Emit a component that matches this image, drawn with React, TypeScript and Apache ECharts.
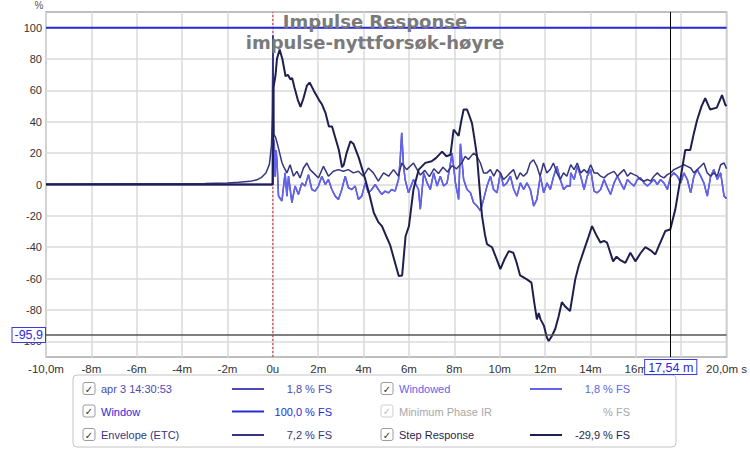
import React, { useEffect, useRef } from 'react';
import * as echarts from 'echarts';

// ---- axis ticks ----
const xTickValues = [-10, -8, -6, -4, -2, 0, 2, 4, 6, 8, 10, 12, 14, 16, 18, 20];
const xTickLabels = ['-10,0m', '-8m', '-6m', '-4m', '-2m', '0u', '2m', '4m', '6m', '8m', '10m', '12m', '14m', '16m', '', '20,0m s'];
const yTickValues = [-100, -80, -60, -40, -20, 0, 20, 40, 60, 80, 100];

// ---- titles / cursor ----
const titleLines = ['Impulse Response', 'impulse-nyttforsøk-høyre'];
const cursorTime = 17.54;
const cursorLevel = -95.9;
const cursorTimeLabel = '17,54 m';
const cursorLevelLabel = '-95,9';
// vertical reference marker at t = 0 spanning the full y range
const referencePoints: [number, number][] = [[0, -110], [0, 110]];

// ---- series data: [time ms, %] ----
const windowPoints: [number, number][] = [[-10, 100], [20, 100]];

const windowedPoints: [number, number][] = [
  [-10, 0], [-0.02, 0], [0, 95], [0.03, 10], [0.06, 28], [0.1, 5], [0.14, 22], [0.18, 15.8],
  [0.25, -7.4], [0.4, -10.5], [0.54, 7.4], [0.62, -7.4], [0.69, 5.3], [0.84, -11.6], [0.98, -1],
  [1.13, -6.3], [1.28, 1], [1.42, -1], [1.57, 6.3], [1.72, -3.2], [1.86, -4.2], [2.01, -1],
  [2.16, 5.3], [2.31, 0], [2.45, 3.2], [2.6, -3.2], [2.75, -7.4], [2.89, -9.5], [3.04, -3.2],
  [3.19, 5.3], [3.33, -2.1], [3.48, -3.2], [3.63, -1], [3.77, -9.5], [3.92, -7.4], [4.07, 1],
  [4.21, -5.3], [4.36, -3.2], [4.51, 0], [4.65, -3.2], [4.8, -6.3], [4.95, -4.2], [5.1, -5.3],
  [5.24, -3.2], [5.39, -4.2], [5.54, 3.2], [5.61, 15], [5.68, 33], [5.76, 12], [5.83, 3.2],
  [5.98, -5.3], [6.2, 3.2], [6.42, -3.2], [6.5, -15.8], [6.65, 7.4], [6.8, 1], [6.94, -3.2],
  [7.09, 7.4], [7.24, -1], [7.38, 5.3], [7.53, -1], [7.68, 1], [7.83, 13.7], [7.9, 20], [8.05, 1],
  [8.19, -9.5], [8.27, 26], [8.41, 3.2], [8.56, -3.2], [8.71, -5.3], [8.85, -11.6], [9.0, -13.7],
  [9.15, -16.8], [9.29, -9.5], [9.44, -1], [9.59, 5.3], [9.73, -3.2], [9.88, -5.3], [10.03, 7.4],
  [10.17, -1], [10.32, 1], [10.47, 5.3], [10.62, -3.2], [10.76, -7.4], [10.91, 1], [11.06, -3.2],
  [11.2, 1], [11.35, -3.2], [11.5, -13.7], [11.64, -9.5], [11.79, 5.3], [11.94, -5.3], [12.08, 1],
  [12.23, -3.2], [12.38, 5.3], [12.52, 11.6], [12.67, 3.2], [12.82, -3.2], [12.96, -1], [13.11, -1],
  [13.13, 7.4], [13.28, 3.2], [13.42, 11.6], [13.57, 5.3], [13.72, -3.2], [13.86, 5.3], [14.01, 9.5],
  [14.16, -4.2], [14.3, -5.3], [14.45, -3.2], [14.6, 3.2], [14.75, -2.1], [14.89, -6.3], [15.04, 1],
  [15.19, 5.3], [15.33, 1], [15.48, -3.2], [15.63, 3.2], [15.77, 1], [15.92, -1], [16.07, 3.2],
  [16.21, 4.2], [16.36, 1], [16.51, -1], [16.65, 1], [16.8, 3.2], [16.95, 0], [17.09, 3.2],
  [17.24, 1], [17.39, -3.2], [17.54, 5.3], [17.68, 7.4], [17.83, 5.3], [17.98, 1], [18.12, 7.4],
  [18.27, 3.2], [18.42, -5.3], [18.56, 5.3], [18.71, 9.5], [18.86, 5.3], [19.0, 1], [19.15, -7.4],
  [19.3, 5.3], [19.44, 9.5], [19.59, 3.2], [19.74, 7.4], [19.89, -7.4], [20, -9],
];

// the window is 100 % over the whole span, so the raw response equals the windowed one
const impulsePoints: [number, number][] = windowedPoints;

const envelopePoints: [number, number][] = [
  [-10, 0.3], [-6, 0.4], [-4, 0.5], [-3, 0.7], [-2, 1.0], [-1.5, 1.4], [-1, 2.0], [-0.7, 3],
  [-0.5, 4.5], [-0.3, 7.5], [-0.15, 13], [-0.06, 25], [-0.02, 45], [0, 95], [0.05, 32], [0.12, 30],
  [0.2, 26], [0.3, 20], [0.4, 14], [0.47, 11.6], [0.62, 7.4], [0.76, 12.6], [0.91, 5.3], [1.06, 8.4],
  [1.2, 4.2], [1.35, 10.5], [1.5, 13.7], [1.64, 9.5], [1.79, 7.4], [2.01, 4.2], [2.23, 11.6],
  [2.45, 5.3], [2.67, 8.4], [2.89, 9.5], [3.11, 8.4], [3.33, 9.5], [3.55, 7.4], [3.77, 8.4],
  [3.99, 5.3], [4.21, 10.5], [4.43, 7.4], [4.65, 2.1], [4.88, 7.4], [5.1, 5.3], [5.32, 9.5],
  [5.54, 5.3], [5.68, 13.7], [5.9, 9.5], [6.2, 13.7], [6.5, 6], [6.7, 9], [6.9, 5], [7.1, 10],
  [7.3, 7], [7.5, 11], [7.7, 8], [7.9, 12], [8.1, 10], [8.34, 14], [8.48, 18], [8.62, 16],
  [8.85, 20], [9.0, 18], [9.15, 13.7], [9.29, 7.4], [9.44, 7.4], [9.59, 9.5], [9.74, 5.3],
  [9.88, 9.5], [10.03, 7.4], [10.17, 3.2], [10.32, 5.3], [10.46, 7.4], [10.61, 9.5], [10.76, 3.2],
  [10.9, 7.4], [11.05, 5.3], [11.2, 7.4], [11.34, 13.7], [11.49, 15.8], [11.64, 11.6], [11.78, 5.3],
  [11.93, 13.7], [12.08, 7.4], [12.22, 9.5], [12.37, 13.7], [12.52, 7.4], [12.67, 3.2], [12.81, 7.4],
  [12.96, 5.3], [13.13, 12.6], [13.28, 9.5], [13.42, 13.7], [13.57, 7.4], [13.72, 9.5], [13.86, 7.4],
  [14.01, 12.6], [14.16, 7.4], [14.3, 7.4], [14.45, 5.3], [14.6, 4.2], [14.75, 6.3], [14.89, 7.4],
  [15.04, 8.4], [15.19, 5.3], [15.33, 7.4], [15.48, 9.5], [15.63, 5.3], [15.77, 7.4], [15.92, 6.3],
  [16.07, 5.3], [16.21, 3.2], [16.36, 2.1], [16.51, 3.2], [16.65, 2.1], [16.8, 5.3], [16.95, 7.4],
  [17.09, 5.3], [17.24, 4.2], [17.39, 6.3], [17.54, 7.4], [17.68, 9.5], [17.83, 10.5], [17.98, 11.6],
  [18.12, 12.6], [18.27, 11.6], [18.42, 10.5], [18.56, 7.4], [18.71, 9.5], [18.86, 11.6], [19.0, 13.7],
  [19.15, 7.4], [19.3, 5.3], [19.44, 7.4], [19.59, 5.3], [19.74, 12.6], [19.89, 13.7], [20, 10],
];

const stepPoints: [number, number][] = [
  [-10, 0], [0, 0], [0.03, 62], [0.12, 70], [0.18, 80], [0.3, 86], [0.42, 80], [0.56, 69],
  [0.66, 70], [0.78, 67], [0.85, 68], [0.95, 62], [1.1, 54], [1.22, 49.5], [1.35, 55], [1.5, 63],
  [1.62, 65], [1.8, 60], [2.03, 54], [2.17, 51], [2.32, 45.7], [2.47, 37], [2.61, 37], [2.75, 30],
  [2.91, 22], [3.05, 11], [3.13, 12.7], [3.25, 20], [3.42, 27.6], [3.55, 26], [3.79, 17], [4.08, 3],
  [4.25, -6], [4.45, -18], [4.65, -24], [4.81, -26.5], [5.0, -33], [5.18, -39], [5.35, -48],
  [5.55, -58.4], [5.7, -58], [5.85, -33], [6.0, -26.5], [6.2, -3], [6.43, 9.5], [6.72, 13.8],
  [7.0, 14.8], [7.2, 17], [7.46, 21], [7.65, 18], [7.83, 19], [7.97, 35], [8.08, 33], [8.19, 31],
  [8.3, 40], [8.41, 47.8], [8.56, 47.8], [8.66, 44], [8.78, 39], [8.9, 28], [9.0, 18], [9.1, 0],
  [9.22, -20], [9.35, -32], [9.44, -38], [9.66, -40], [9.85, -47], [10.03, -54], [10.2, -48],
  [10.4, -42.5], [10.6, -43.5], [10.75, -50], [10.9, -58], [11.2, -60.5], [11.4, -62.6], [11.52, -75],
  [11.64, -86], [11.72, -82], [11.8, -86], [11.95, -90], [12.08, -97.6], [12.16, -99.8], [12.3, -96.6],
  [12.45, -92], [12.6, -84], [12.74, -75], [12.9, -78], [13.1, -80.7], [13.33, -60.5], [13.48, -52],
  [13.7, -42.5], [13.9, -34], [14.07, -26.5], [14.25, -32], [14.44, -37], [14.6, -36], [14.73, -37],
  [15.0, -49], [15.15, -46], [15.3, -48], [15.54, -50], [15.76, -43.5], [15.98, -49], [16.2, -44],
  [16.42, -40], [16.65, -42], [16.86, -44.6], [17.05, -38], [17.3, -29.7], [17.52, -28.7],
  [17.74, -16], [17.96, 3], [18.18, 22], [18.4, 22], [18.55, 32], [18.7, 41], [18.9, 50], [19.06, 55],
  [19.28, 47.8], [19.57, 49], [19.8, 57], [19.94, 51], [20, 50],
];

// ---- legend ----
const legendNames = ['apr 3 14:30:53', 'Window', 'Envelope (ETC)', 'Windowed', 'Minimum Phase IR', 'Step Response'];
const legendValues = ['1,8 % FS', '100,0 % FS', '7,2 % FS', '1,8 % FS', '% FS', '-29,9 % FS'];
const legendHasLine = [true, true, true, true, false, true];

// ---- colours ----
const colImpulse = '#4a4ab6';
const colWindow = '#2a2adc';
const colEnvelope = '#35357e';
const colWindowed = '#6262ee';
const colMinPhase = '#a8a8a8';
const colStep = '#1f1f4f';
const colReference = '#c8283a';
const legendColors = [colImpulse, colWindow, colEnvelope, colWindowed, colMinPhase, colStep];

const FONT = "'Liberation Sans', Arial, sans-serif";

export default function App() {
  const ref = useRef<HTMLDivElement>(null);

  useEffect(() => {
    document.body.style.margin = '0';
    if (!ref.current) return;
    const chart = echarts.init(ref.current, undefined, { renderer: 'svg' });

    const lineSeries = (name: string, data: [number, number][], color: string, width: number, extra: any = {}) => ({
      type: 'line',
      name,
      data,
      showSymbol: false,
      symbol: 'none',
      lineStyle: { color, width },
      itemStyle: { color },
      silent: true,
      animation: false,
      ...extra,
    });

    const cursorLabel = (text: string, distance: number, padding: number[]) => ({
      show: true,
      position: 'start',
      distance,
      formatter: text,
      color: '#2a2ae0',
      fontSize: 12.5,
      backgroundColor: '#ffffff',
      borderColor: '#3a3ae0',
      borderWidth: 1,
      padding,
    });

    // legend graphics
    const rowsY = [389, 411.5, 435];
    const legendEls: any[] = [
      {
        type: 'rect',
        shape: { x: 73, y: 375, width: 603, height: 72, r: 4 },
        style: { fill: '#ffffff', stroke: '#c4c4c4', lineWidth: 1 },
      },
    ];
    legendNames.forEach((nm, i) => {
      const dx = i < 3 ? 0 : 298;
      const y = rowsY[i % 3];
      const disabled = !legendHasLine[i];
      legendEls.push({
        type: 'rect',
        shape: { x: 83 + dx, y: y - 6.5, width: 12, height: 12, r: 2 },
        style: { fill: '#ffffff', stroke: disabled ? '#cfcfcf' : '#9c9c9c', lineWidth: 1 },
      });
      legendEls.push({
        type: 'text',
        x: 89 + dx,
        y: y,
        style: {
          text: '✓',
          fill: disabled ? '#bdbdbd' : '#333333',
          fontSize: 10,
          fontFamily: 'DejaVu Sans',
          align: 'center',
          verticalAlign: 'middle',
        },
      });
      legendEls.push({
        type: 'text',
        x: 101 + dx,
        y: y,
        style: {
          text: nm,
          fill: legendColors[i],
          fontSize: 11,
          fontFamily: FONT,
          align: 'left',
          verticalAlign: 'middle',
        },
      });
      if (legendHasLine[i]) {
        legendEls.push({
          type: 'line',
          shape: { x1: 232 + dx, y1: y, x2: 264 + dx, y2: y },
          style: { stroke: legendColors[i], lineWidth: 2 },
        });
      }
      legendEls.push({
        type: 'text',
        x: 332 + dx,
        y: y,
        style: {
          text: legendValues[i],
          fill: legendColors[i],
          fontSize: 11,
          fontFamily: FONT,
          align: 'right',
          verticalAlign: 'middle',
        },
      });
    });

    const titleEls = titleLines.map((t, i) => ({
      type: 'text',
      x: 375,
      y: i === 0 ? 21 : 42,
      z: 10,
      style: {
        text: t,
        fill: '#7a7a7a',
        fontSize: 18,
        fontWeight: 'bold',
        fontFamily: 'DejaVu Sans',
        align: 'center',
        verticalAlign: 'middle',
      },
    }));

    chart.setOption({
      animation: false,
      backgroundColor: '#ffffff',
      textStyle: { fontFamily: FONT },
      grid: {
        left: 46,
        right: 22,
        top: 12,
        bottom: 92,
        show: true,
        borderColor: '#a9a9a9',
        borderWidth: 1.5,
        backgroundColor: '#ffffff',
      },
      xAxis: {
        type: 'value',
        min: -10,
        max: 20,
        interval: 2,
        axisLine: { show: false },
        axisTick: { show: false },
        splitLine: { show: true, lineStyle: { color: '#dadada', width: 1.5 } },
        axisLabel: {
          color: '#333333',
          fontSize: 11.5,
          margin: 6,
          showMinLabel: true,
          showMaxLabel: true,
          formatter: (v: number) => {
            const i = xTickValues.findIndex((t) => Math.abs(t - v) < 1e-6);
            return i >= 0 ? xTickLabels[i] : '';
          },
        },
      },
      yAxis: {
        type: 'value',
        min: -110,
        max: 110,
        axisLine: { show: false },
        axisTick: { show: false, customValues: yTickValues },
        splitLine: { show: true, lineStyle: { color: '#dadada', width: 1.5 } },
        axisLabel: {
          customValues: yTickValues,
          color: '#333333',
          fontSize: 11,
          margin: 4,
        },
      },
      graphic: [
        {
          type: 'text',
          x: 39,
          y: 5,
          style: { text: '%', fill: '#555555', fontSize: 10, fontFamily: FONT, align: 'center', verticalAlign: 'middle' },
        },
        ...titleEls,
        ...legendEls,
      ],
      series: [
        lineSeries('reference', referencePoints, colReference, 1, {
          lineStyle: { color: colReference, width: 1, type: [2, 2] },
        }),
        lineSeries('Window', windowPoints, colWindow, 2),
        lineSeries('apr 3 14:30:53', impulsePoints, colImpulse, 1.5),
        lineSeries('Windowed', windowedPoints, colWindowed, 1.5),
        lineSeries('Envelope (ETC)', envelopePoints, colEnvelope, 1.5),
        lineSeries('Step Response', stepPoints, colStep, 2, {
          markLine: {
            silent: true,
            symbol: ['none', 'none'],
            animation: false,
            lineStyle: { color: '#555555', type: 'solid', width: 1.5 },
            data: [
              {
                yAxis: cursorLevel,
                lineStyle: { color: '#555555', type: 'solid', width: 1.5 },
                label: cursorLabel(cursorLevelLabel, 1, [1, 2, 0, 2]),
              },
              {
                xAxis: cursorTime,
                lineStyle: { color: '#000000', type: 'solid', width: 1 },
                label: cursorLabel(cursorTimeLabel, 3, [1, 3, 0, 3]),
              },
            ],
          },
        }),
      ],
    });

    return () => chart.dispose();
  }, []);

  return <div ref={ref} style={{ width: 750, height: 449 }} />;
}
